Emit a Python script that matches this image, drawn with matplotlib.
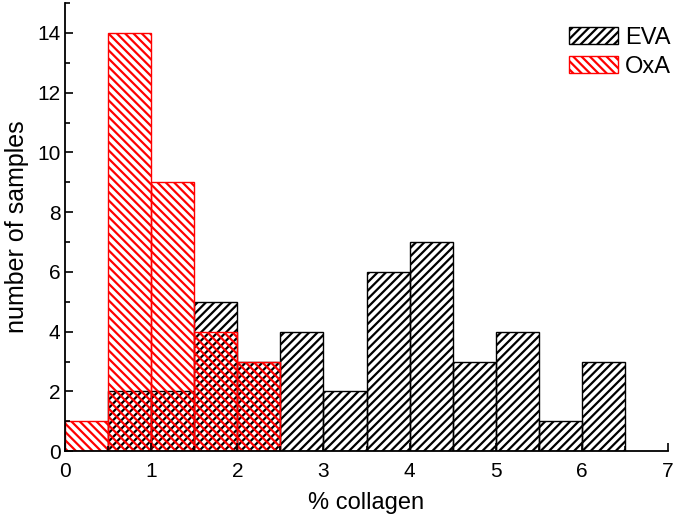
import matplotlib
matplotlib.use("Agg")
import matplotlib.pyplot as plt
import numpy as np
from matplotlib.ticker import MultipleLocator

plt.rcParams['font.family'] = ['Liberation Sans', 'DejaVu Sans']
plt.rcParams['hatch.linewidth'] = 1.6

# bin left edges (% collagen), width 0.5
bin_left = [0.0, 0.5, 1.0, 1.5, 2.0, 2.5, 3.0, 3.5, 4.0, 4.5, 5.0, 5.5, 6.0]
eva_counts = [0, 2, 2, 5, 3, 4, 2, 6, 7, 3, 4, 1, 3]
oxa_counts = [1, 14, 9, 4, 3, 0, 0, 0, 0, 0, 0, 0, 0]
bin_width = 0.5

fig = plt.figure(figsize=(6.8, 5.18), dpi=100)
ax = fig.add_axes([0.096, 0.129, 0.886, 0.865])

ax.bar(bin_left, eva_counts, width=bin_width, align='edge', facecolor='none',
       edgecolor='black', hatch='////', linewidth=1.0, label='EVA')
oxa_mask = [c > 0 for c in oxa_counts]
ax.bar(np.array(bin_left)[oxa_mask], np.array(oxa_counts)[oxa_mask], width=bin_width,
       align='edge', facecolor='none', edgecolor='red', hatch='\\\\\\\\', linewidth=1.0,
       label='OxA')

ax.set_xlim(0, 7)
ax.set_ylim(0, 15)
ax.xaxis.set_major_locator(MultipleLocator(1))
ax.xaxis.set_minor_locator(MultipleLocator(0.5))
ax.yaxis.set_major_locator(MultipleLocator(2))
ax.yaxis.set_minor_locator(MultipleLocator(1))
ax.tick_params(which='both', direction='in', labelsize=15, width=1.2)
ax.tick_params(which='major', length=6)
ax.tick_params(which='minor', length=3.5)
ax.tick_params(axis='x', pad=8)
ax.spines['top'].set_visible(False)
ax.spines['right'].set_visible(False)
ax.spines['left'].set_linewidth(1.3)
ax.spines['bottom'].set_linewidth(1.3)

ax.set_xlabel('% collagen', fontsize=17, labelpad=8)
ax.set_ylabel('number of samples', fontsize=18, labelpad=6)

ax.legend(loc='upper right', bbox_to_anchor=(1.045, 1.0), frameon=False,
          fontsize=17, handlelength=2.1, handleheight=0.75, labelspacing=0.3,
          handletextpad=0.3, borderaxespad=0.6)

fig.savefig('out.png', dpi=100)
